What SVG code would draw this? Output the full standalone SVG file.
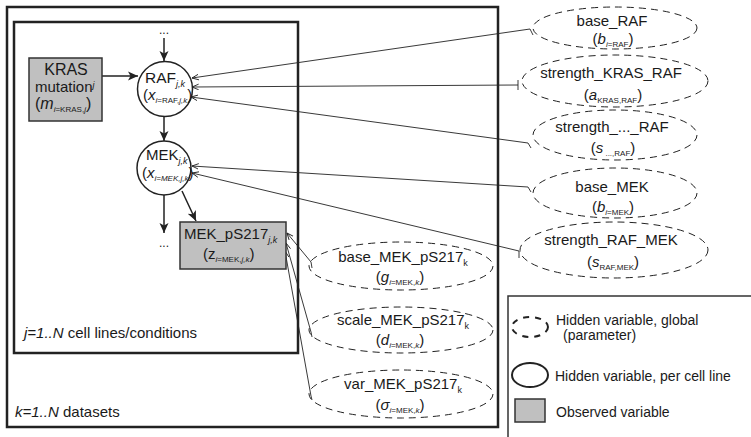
<svg xmlns="http://www.w3.org/2000/svg" width="751" height="437" viewBox="0 0 751 437">
<style>
text{font-family:"Liberation Sans",Arial,sans-serif;fill:#1a1a1a;font-size:15px}
.m{text-anchor:middle}
.i{font-style:italic}
.s{font-size:9px}
.s2{font-size:8px}
.lg{font-size:14px}
.par{fill:none;stroke:#222;stroke-width:1;stroke-dasharray:7 5}
.hid{fill:#fff;stroke:#222;stroke-width:1.5}
.obs{fill:#c0c0c0;stroke:#333;stroke-width:1.5}
.box{fill:none;stroke:#222;stroke-width:2.5}
.main{fill:none;stroke:#222;stroke-width:1.5;marker-end:url(#ah)}
.thin{fill:none;stroke:#222;stroke-width:0.9;marker-end:url(#ta)}
</style>
<defs>
<marker id="ah" viewBox="0 0 10 10" refX="10" refY="5" markerWidth="10" markerHeight="10" markerUnits="userSpaceOnUse" orient="auto"><path d="M0,0.5 L10,5 L0,9.5 L2.5,5 z" fill="#222"/></marker>
<marker id="ta" viewBox="0 0 10 10" refX="9.5" refY="5" markerWidth="7" markerHeight="7" markerUnits="userSpaceOnUse" orient="auto"><path d="M0,1 L9.5,5 L0,9" fill="none" stroke="#222" stroke-width="1.3"/></marker>
</defs>
<rect width="751" height="437" fill="#fff"/>
<g id="plates">
<rect class="box" x="7" y="7" width="491" height="420"/>
<rect class="box" x="14" y="22" width="284" height="331"/>
<text x="24" y="338"><tspan class="i">j=1..N</tspan> cell lines/conditions</text>
<text x="15" y="417"><tspan class="i">k=1..N</tspan> datasets</text>
</g>
<g id="connectors">
<path class="main" d="M164,38 L164,61"/>
<path class="main" d="M102,76 L138,76"/>
<path class="main" d="M164,116 L164,141"/>
<path class="main" d="M164,195 L164,233"/>
<path class="main" d="M182,191 L196,221"/>
<path class="thin" d="M533,35 L530,29 L192,78"/>
<path class="thin" d="M518,80 L518,90 M518,85 L192,87"/>
<path class="thin" d="M531,148 L528,143 L191,97"/>
<path class="thin" d="M531,192 L528,187 L192,166"/>
<path class="thin" d="M519,258 L519,251 L192,173"/>
<path class="thin" d="M312,268 L311,262 L287,233"/>
<path class="thin" d="M312,337 L311,332 L286,243"/>
<path class="thin" d="M312,400 L311,396 L285,251"/>
<text class="m" x="164" y="34" style="font-size:12px">...</text>
<text class="m" x="164" y="247" style="font-size:12px">...</text>
</g>
<g id="kras">
<rect class="obs" x="29" y="58" width="73" height="63"/>
<text class="m" x="66" y="75" style="font-size:16px">KRAS</text>
<text x="35" y="92">mutation<tspan class="s i" dy="-4">j</tspan></text>
<text x="35" y="109" style="font-size:16px">(<tspan class="i">m</tspan><tspan class="s2" dy="3"><tspan class="i">i</tspan>=KRAS,<tspan class="i">j</tspan></tspan><tspan dy="-3">)</tspan></text>
</g>
<g id="raf">
<circle class="hid" cx="165" cy="89" r="27.5"/>
<text x="145" y="83" style="font-size:15.5px">RAF<tspan class="s i" dy="4">j,k</tspan></text>
<text x="143" y="100" style="font-size:15px">(<tspan class="i">x</tspan><tspan class="s2" dy="3"><tspan class="i">i</tspan>=RAF,<tspan class="i">j,k</tspan></tspan><tspan dy="-3">)</tspan></text>
</g>
<g id="mek">
<circle class="hid" cx="164" cy="168" r="27"/>
<text x="146" y="160" style="font-size:15px">MEK<tspan class="s i" dy="4">j,k</tspan></text>
<text x="142" y="178" style="font-size:15px">(<tspan class="i">x</tspan><tspan class="s2 i" dy="3">i=MEK,j,k</tspan><tspan dy="-3">)</tspan></text>
</g>
<g id="mek_ps217">
<rect class="obs" x="180" y="222" width="106" height="47"/>
<text x="184" y="239">MEK_pS217<tspan class="s i" dy="4">j,k</tspan></text>
<text x="203" y="259">(z<tspan class="s2" dy="3"><tspan class="i">i</tspan>=MEK,<tspan class="i">j,k</tspan></tspan><tspan dy="-3">)</tspan></text>
</g>
<g id="base_raf">
<ellipse class="par" cx="615" cy="28" rx="82" ry="21"/>
<text class="m" x="612" y="26">base_RAF</text>
<text class="m" x="613" y="44">(<tspan class="i">b</tspan><tspan class="s2" dy="3"><tspan class="i">i</tspan>=RAF</tspan><tspan dy="-3">)</tspan></text>
</g>
<g id="strength_kras_raf">
<ellipse class="par" cx="615" cy="81" rx="93" ry="26"/>
<text class="m" x="611" y="78">strength_KRAS_RAF</text>
<text class="m" x="613" y="100">(<tspan class="i">a</tspan><tspan class="s2" dy="3">KRAS,RAF</tspan><tspan dy="-3">)</tspan></text>
</g>
<g id="strength_x_raf">
<ellipse class="par" cx="615" cy="135" rx="82" ry="25"/>
<text class="m" x="612" y="132">strength_..._RAF</text>
<text class="m" x="613" y="153">(<tspan class="i">s</tspan><tspan class="s2" dy="3"> ...,RAF</tspan><tspan dy="-3">)</tspan></text>
</g>
<g id="base_mek">
<ellipse class="par" cx="615" cy="193" rx="82" ry="25"/>
<text class="m" x="612" y="192">base_MEK</text>
<text class="m" x="613" y="212">(<tspan class="i">b</tspan><tspan class="s2" dy="3"><tspan class="i">i</tspan>=MEK</tspan><tspan dy="-3">)</tspan></text>
</g>
<g id="strength_raf_mek">
<ellipse class="par" cx="614" cy="250" rx="94" ry="28"/>
<text class="m" x="611" y="245">strength_RAF_MEK</text>
<text class="m" x="613" y="267">(<tspan class="i">s</tspan><tspan class="s2" dy="3">RAF,MEK</tspan><tspan dy="-3">)</tspan></text>
</g>
<g id="base_mek_ps217">
<ellipse class="par" cx="401" cy="266" rx="92" ry="24"/>
<text class="m" x="403" y="262">base_MEK_pS217<tspan class="s" dy="4">k</tspan></text>
<text class="m" x="400" y="282">(<tspan class="i">g</tspan><tspan class="s2" dy="3"><tspan class="i">i</tspan>=MEK,<tspan class="i">k</tspan></tspan><tspan dy="-3">)</tspan></text>
</g>
<g id="scale_mek_ps217">
<ellipse class="par" cx="401" cy="330" rx="92" ry="23"/>
<text class="m" x="403" y="325">scale_MEK_pS217<tspan class="s" dy="4">k</tspan></text>
<text class="m" x="400" y="345">(<tspan class="i">d</tspan><tspan class="s2" dy="3"><tspan class="i">i</tspan>=MEK,<tspan class="i">k</tspan></tspan><tspan dy="-3">)</tspan></text>
</g>
<g id="var_mek_ps217">
<ellipse class="par" cx="401" cy="394" rx="92" ry="24"/>
<text class="m" x="403" y="389">var_MEK_pS217<tspan class="s" dy="4">k</tspan></text>
<text class="m" x="400" y="410">(<tspan class="i">σ</tspan><tspan class="s2" dy="3"><tspan class="i">i</tspan>=MEK,<tspan class="i">k</tspan></tspan><tspan dy="-3">)</tspan></text>
</g>
<g id="legend">
<path d="M508,437 L508,296 L751,296" fill="none" stroke="#333" stroke-width="1.5"/>
<ellipse cx="530" cy="327" rx="18" ry="10" fill="none" stroke="#222" stroke-width="2" stroke-dasharray="6 6"/>
<text class="lg" x="556" y="325">Hidden variable, global</text>
<text class="lg" x="563" y="340">(parameter)</text>
<ellipse cx="530" cy="375" rx="18" ry="12" fill="none" stroke="#222" stroke-width="2"/>
<text class="lg" x="555" y="381">Hidden variable, per cell line</text>
<rect x="515" y="399" width="30" height="23" fill="#c0c0c0" stroke="#333" stroke-width="1.5"/>
<text class="lg" x="556" y="417">Observed variable</text>
</g>
</svg>
